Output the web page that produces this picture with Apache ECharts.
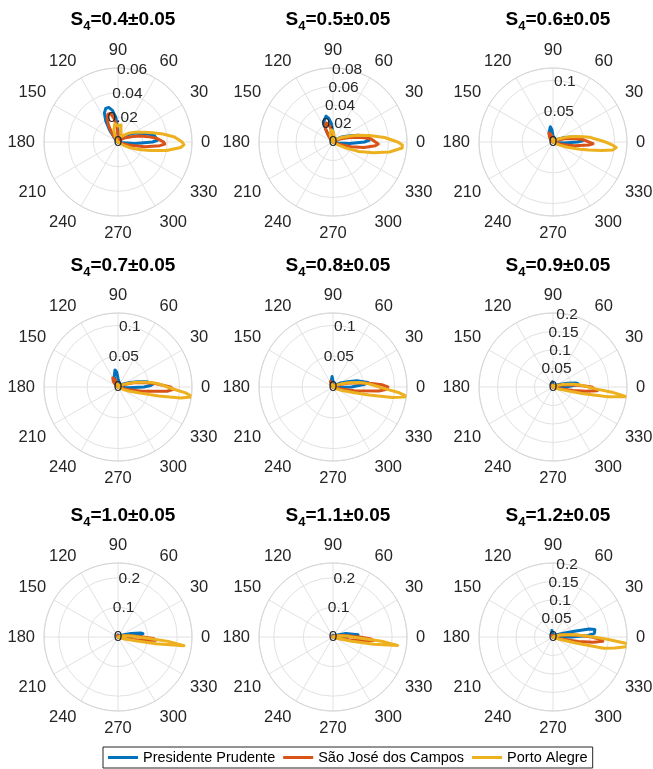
<!DOCTYPE html>
<html>
<head>
<meta charset="utf-8">
<script src="https://cdn.jsdelivr.net/npm/echarts@6/dist/echarts.min.js"></script>
<style>
  html, body { margin: 0; padding: 0; background: #fff; }
  #chart { width: 653px; height: 769px; }
</style>
</head>
<body>
<div id="chart"></div>
<script>
// Station names (legend) and their line colours
const STATIONS = ['Presidente Prudente', 'São José dos Campos', 'Porto Alegre'];
const COLORS = ['#0072BD', '#D95319', '#EDB120'];

// S4 bins shown in each panel
const S4_BINS = ['0.4', '0.5', '0.6', '0.7', '0.8', '0.9', '1.0', '1.1', '1.2'];
// Radial axis limit and tick step per panel
const R_MAX = [0.06, 0.08, 0.12, 0.12, 0.12, 0.2, 0.25, 0.25, 0.2];
const R_STEP = [0.02, 0.02, 0.05, 0.05, 0.05, 0.05, 0.1, 0.1, 0.05];

// Normalised occurrence vs azimuth, [azimuth in degrees, value]
// S4 = 0.4
const pp04 = [[-15,0],[-10,0.004],[-5,0.014],[0,0.028],[2.5,0.032],[5,0.033],[10,0.030],[15,0.025],[20,0.020],[25,0.017],[30,0.014],[40,0.008],[50,0.003],[60,0],[85,0],[90,0.010],[95,0.020],[100,0.026],[105,0.029],[110,0.029],[115,0.026],[120,0.020],[125,0.012],[130,0.005],[140,0]];
const sj04 = [[-25,0],[-20,0.004],[-15,0.010],[-10,0.022],[-5,0.034],[-2.5,0.038],[0,0.037],[5,0.032],[10,0.025],[15,0.019],[20,0.013],[30,0.007],[40,0.003],[50,0],[85,0],[90,0.006],[95,0.014],[100,0.020],[105,0.024],[110,0.024],[115,0.021],[120,0.015],[125,0.008],[130,0.003],[140,0]];
const pa04 = [[-40,0],[-30,0.006],[-25,0.011],[-20,0.018],[-15,0.027],[-10,0.040],[-5,0.051],[-2.5,0.0535],[0,0.052],[5,0.046],[10,0.037],[15,0.029],[20,0.023],[30,0.016],[40,0.011],[50,0.007],[60,0.005],[70,0.006],[80,0.014],[85,0.015],[90,0.013],[95,0.013],[100,0.015],[105,0.014],[110,0.010],[120,0.004],[130,0]];
// S4 = 0.5
const pp05 = [[-15,0],[-10,0.006],[-5,0.018],[0,0.034],[2.5,0.039],[5,0.040],[10,0.036],[15,0.028],[20,0.020],[30,0.011],[40,0.005],[50,0],[85,0],[90,0.010],[95,0.020],[100,0.026],[105,0.029],[110,0.028],[115,0.024],[120,0.016],[125,0.008],[130,0.003],[140,0]];
const sj05 = [[-25,0],[-20,0.008],[-15,0.020],[-10,0.034],[-5,0.046],[-2.5,0.049],[0,0.048],[5,0.041],[10,0.030],[15,0.019],[20,0.011],[30,0.005],[40,0],[90,0],[95,0.008],[100,0.016],[105,0.020],[110,0.022],[115,0.021],[120,0.016],[125,0.009],[130,0.003],[140,0]];
const pa05 = [[-35,0],[-30,0.006],[-25,0.015],[-20,0.030],[-15,0.045],[-10,0.062],[-5,0.075],[-2.5,0.075],[0,0.070],[5,0.056],[10,0.040],[15,0.028],[20,0.018],[30,0.009],[40,0.004],[50,0],[70,0],[80,0.007],[90,0.012],[100,0.013],[110,0.009],[120,0.003],[130,0]];
// S4 = 0.6
const pp06 = [[-15,0],[-10,0.005],[-5,0.018],[0,0.040],[2.5,0.048],[5,0.050],[10,0.044],[15,0.032],[20,0.021],[30,0.010],[40,0.004],[50,0],[85,0],[90,0.010],[95,0.020],[100,0.025],[105,0.024],[110,0.018],[115,0.010],[120,0.004],[130,0]];
const sj06 = [[-25,0],[-20,0.006],[-15,0.015],[-10,0.035],[-5,0.058],[-2.5,0.065],[0,0.062],[5,0.048],[10,0.033],[15,0.020],[20,0.011],[30,0.004],[40,0],[90,0],[95,0.006],[105,0.013],[115,0.016],[125,0.010],[135,0.004],[145,0]];
const pa06 = [[-35,0],[-30,0.005],[-25,0.012],[-20,0.025],[-15,0.045],[-12.5,0.060],[-10,0.080],[-7.5,0.098],[-5,0.103],[-2.5,0.095],[0,0.085],[2.5,0.075],[5,0.066],[7.5,0.060],[10,0.050],[15,0.035],[20,0.022],[30,0.010],[40,0.004],[50,0],[90,0],[100,0.005],[110,0.004],[120,0]];
// S4 = 0.7
const pp07 = [[-10,0],[-5,0.015],[0,0.042],[2.5,0.053],[5,0.057],[10,0.048],[15,0.033],[20,0.021],[30,0.010],[40,0.004],[50,0],[85,0],[90,0.014],[95,0.024],[100,0.028],[105,0.026],[110,0.018],[115,0.008],[120,0.003],[130,0]];
const sj07 = [[-25,0],[-20,0.006],[-15,0.015],[-10,0.040],[-5,0.080],[-2.5,0.090],[0,0.085],[5,0.062],[10,0.042],[15,0.026],[20,0.013],[30,0.005],[40,0],[100,0],[105,0.006],[110,0.012],[120,0.017],[130,0.012],[140,0.004],[150,0]];
const pa07 = [[-35,0],[-30,0.004],[-25,0.010],[-20,0.020],[-15,0.040],[-12.5,0.068],[-10,0.103],[-7.5,0.122],[-5,0.110],[-2.5,0.092],[0,0.080],[2.5,0.072],[5,0.064],[7.5,0.055],[10,0.045],[15,0.030],[20,0.017],[30,0.007],[40,0.003],[50,0],[95,0],[105,0.005],[115,0.006],[125,0]];
// S4 = 0.8
const pp08 = [[-10,0],[-5,0.010],[0,0.030],[5,0.052],[7.5,0.057],[10,0.055],[15,0.040],[20,0.025],[30,0.012],[40,0.005],[50,0],[85,0],[90,0.010],[95,0.017],[100,0.019],[105,0.016],[110,0.009],[115,0.003],[125,0]];
const sj08 = [[-25,0],[-20,0.005],[-15,0.013],[-10,0.035],[-5,0.075],[-2.5,0.087],[0,0.089],[2.5,0.080],[5,0.063],[10,0.040],[15,0.024],[20,0.012],[30,0.004],[40,0],[100,0],[105,0.005],[115,0.010],[125,0.008],[135,0.003],[145,0]];
const pa08 = [[-35,0],[-30,0.004],[-25,0.009],[-20,0.018],[-15,0.036],[-12.5,0.060],[-10,0.098],[-7.5,0.122],[-5,0.108],[-2.5,0.088],[0,0.075],[2.5,0.066],[5,0.058],[7.5,0.050],[10,0.042],[15,0.027],[20,0.015],[30,0.006],[40,0.002],[50,0],[95,0],[105,0.004],[115,0.004],[125,0]];
// S4 = 0.9
const pp09 = [[-10,0],[-5,0.010],[0,0.035],[5,0.062],[7.5,0.068],[10,0.062],[15,0.040],[20,0.022],[30,0.010],[40,0.004],[50,0],[85,0],[90,0.008],[95,0.014],[100,0.016],[105,0.013],[110,0.007],[120,0]];
const sj09 = [[-25,0],[-20,0.006],[-15,0.018],[-10,0.055],[-7.5,0.090],[-5,0.120],[-2.5,0.125],[0,0.105],[2.5,0.080],[5,0.060],[10,0.035],[15,0.020],[20,0.010],[30,0.003],[40,0],[100,0],[110,0.006],[120,0.006],[130,0]];
const pa09 = [[-30,0],[-25,0.006],[-20,0.015],[-15,0.040],[-12.5,0.080],[-10,0.150],[-7.5,0.200],[-5,0.160],[-2.5,0.115],[0,0.095],[2.5,0.083],[5,0.070],[7.5,0.055],[10,0.042],[15,0.025],[20,0.013],[30,0.005],[40,0],[95,0],[105,0.004],[115,0]];
// S4 = 1.0
const pp10 = [[-10,0],[-5,0.008],[0,0.030],[5,0.075],[7.5,0.085],[10,0.078],[15,0.045],[20,0.022],[30,0.008],[40,0],[85,0],[90,0.008],[100,0.012],[110,0.006],[120,0]];
const sj10 = [[-25,0],[-20,0.006],[-15,0.015],[-10,0.050],[-7.5,0.090],[-5,0.128],[-2.5,0.120],[0,0.085],[2.5,0.060],[5,0.045],[10,0.026],[15,0.014],[20,0.006],[30,0],[100,0],[110,0.005],[120,0.004],[130,0]];
const pa10 = [[-25,0],[-20,0.010],[-15,0.030],[-12.5,0.060],[-10,0.130],[-7.5,0.225],[-5,0.170],[-2.5,0.100],[0,0.070],[2.5,0.052],[5,0.040],[10,0.025],[15,0.014],[20,0.007],[30,0]];
// S4 = 1.1
const pp11 = [[-10,0],[-5,0.010],[0,0.040],[5,0.085],[7.5,0.090],[10,0.080],[15,0.045],[20,0.022],[30,0.008],[40,0],[85,0],[90,0.007],[100,0.011],[110,0.006],[120,0]];
const sj11 = [[-25,0],[-20,0.006],[-15,0.016],[-10,0.055],[-7.5,0.100],[-5,0.138],[-2.5,0.125],[0,0.090],[2.5,0.066],[5,0.050],[10,0.030],[15,0.016],[20,0.007],[30,0],[105,0],[115,0.004],[125,0]];
const pa11 = [[-25,0],[-20,0.010],[-15,0.030],[-12.5,0.065],[-10,0.140],[-7.5,0.220],[-5,0.165],[-2.5,0.095],[0,0.065],[2.5,0.050],[5,0.038],[10,0.024],[15,0.013],[20,0.006],[30,0]];
// S4 = 1.2
const pp12 = [[-10,0],[-5,0.010],[0,0.050],[2.5,0.095],[5,0.112],[7.5,0.115],[10,0.115],[12.5,0.100],[15,0.060],[20,0.030],[30,0.012],[40,0.004],[50,0],[90,0],[100,0.018],[105,0.018],[110,0.010],[120,0]];
const sj12 = [[-25,0],[-20,0.008],[-15,0.022],[-10,0.070],[-7.5,0.110],[-5,0.135],[-2.5,0.125],[0,0.105],[2.5,0.080],[5,0.060],[10,0.035],[15,0.020],[20,0.010],[30,0.003],[40,0],[100,0],[110,0.005],[120,0.004],[130,0]];
const pa12 = [[-30,0],[-25,0.006],[-20,0.018],[-15,0.060],[-12.5,0.140],[-10,0.170],[-7.5,0.200],[-5,0.200],[-2.5,0.150],[0,0.110],[2.5,0.085],[5,0.065],[7.5,0.048],[10,0.036],[15,0.020],[20,0.010],[30,0.003],[40,0]];

const PANEL_SERIES = [
  [pp04, sj04, pa04], [pp05, sj05, pa05], [pp06, sj06, pa06],
  [pp07, sj07, pa07], [pp08, sj08, pa08], [pp09, sj09, pa09],
  [pp10, sj10, pa10], [pp11, sj11, pa11], [pp12, sj12, pa12]
];

// Panel layout: 3 x 3 grid of polar axes
const COL_X = [118, 333, 553];
const ROW_Y = [142, 387, 637];
const TITLE_Y = [2, 248, 498];
const RADIUS = 74;
const FONT = 'Liberation Sans, Arial, Helvetica, sans-serif';
const TEXT = '#262626';
const GRID = '#e2e2e2';

const polar = [], angleAxis = [], radiusAxis = [], series = [], title = [];
const n = S4_BINS.length;

for (let i = 0; i < n; i++) {
  const cx = COL_X[i % 3], cy = ROW_Y[Math.floor(i / 3)];
  polar.push({ center: [cx, cy], radius: RADIUS });
  angleAxis.push({
    polarIndex: i, type: 'value', min: 0, max: 360, interval: 30,
    startAngle: 0, clockwise: false,
    axisLine: { show: true, lineStyle: { color: '#d6d6d6', width: 1 } },
    axisTick: { show: false },
    axisLabel: { show: true, margin: 9, color: TEXT, fontSize: 16.5, fontFamily: FONT },
    splitLine: { show: true, lineStyle: { color: GRID, width: 1 } }
  });
  radiusAxis.push({
    polarIndex: i, type: 'value', min: 0, max: R_MAX[i], interval: R_STEP[i],
    axisLine: { show: false }, axisTick: { show: false }, axisLabel: { show: false },
    splitLine: { show: true, lineStyle: { color: GRID, width: 1 } }
  });
  title.push({
    text: '{a|S}{b|4}{a|=' + S4_BINS[i] + '±0.05}',
    left: cx, top: TITLE_Y[Math.floor(i / 3)], textAlign: 'center',
    textStyle: {
      rich: {
        a: { fontSize: 19, fontWeight: 'bold', color: '#000', fontFamily: FONT },
        b: { fontSize: 13, fontWeight: 'bold', color: '#000', fontFamily: FONT, padding: [13, 0, 0, 0] }
      }
    }
  });
  PANEL_SERIES[i].forEach((arr, k) => {
    series.push({
      name: STATIONS[k], type: 'line', coordinateSystem: 'polar', polarIndex: i,
      symbol: 'none', showSymbol: false, silent: true,
      lineStyle: { color: COLORS[k], width: 3, cap: 'round', join: 'round' },
      itemStyle: { color: COLORS[k] },
      data: arr.map(p => [p[1], ((p[0] % 360) + 360) % 360]),
      z: 3 + k
    });
  });
}

// Second set of polar frames carrying the radial tick labels along the 79° ray
for (let i = 0; i < n; i++) {
  const cx = COL_X[i % 3], cy = ROW_Y[Math.floor(i / 3)];
  const step = R_STEP[i];
  polar.push({ center: [cx, cy], radius: RADIUS });
  angleAxis.push({
    polarIndex: n + i, type: 'value', min: 0, max: 360, startAngle: 79, clockwise: false,
    axisLine: { show: false }, axisTick: { show: false }, axisLabel: { show: false }, splitLine: { show: false }
  });
  radiusAxis.push({
    polarIndex: n + i, type: 'value', min: 0, max: R_MAX[i], interval: step,
    axisLine: { show: false }, axisTick: { show: false }, splitLine: { show: false },
    axisLabel: {
      show: true, margin: 0, align: 'center', verticalAlign: 'middle',
      color: TEXT, fontSize: 15.5, fontFamily: FONT,
      formatter: v => {
        const k = v / step;
        return Math.abs(k - Math.round(k)) < 1e-6 ? String(+v.toFixed(4)) : '';
      }
    },
    z: 10
  });
}

const chart = echarts.init(document.getElementById('chart'), null, { renderer: 'canvas' });
chart.setOption({
  animation: false,
  backgroundColor: '#fff',
  title: title,
  polar: polar,
  angleAxis: angleAxis,
  radiusAxis: radiusAxis,
  legend: {
    data: STATIONS,
    left: 103, top: 747,
    orient: 'horizontal',
    icon: 'rect',
    itemWidth: 30, itemHeight: 3, itemGap: 8,
    padding: [3, 5, 3, 5],
    borderColor: '#262626', borderWidth: 1,
    textStyle: { fontSize: 14.5, color: '#000', fontFamily: FONT }
  },
  series: series
});
</script>
</body>
</html>
